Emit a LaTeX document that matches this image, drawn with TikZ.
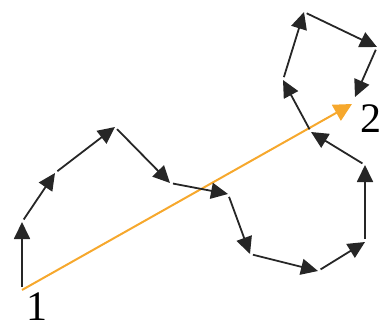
\documentclass[tikz,border=0pt]{standalone}
\usepackage{fontspec}
\setmainfont{Liberation Serif}
\usetikzlibrary{arrows.meta}
\definecolor{walkorange}{RGB}{246,168,45}
\tikzset{
  walkseg/.style={line width=1.8pt, black!85, shorten <=3pt,
    -{Triangle[length=17pt,width=16pt]}},
  netseg/.style={line width=2pt, walkorange,
    -{Triangle[length=18pt,width=18pt]}},
  ptlabel/.style={inner sep=0pt, font=\fontsize{42}{42}\selectfont}
}
\begin{document}
\begin{tikzpicture}[x=1pt,y=-1pt]
\useasboundingbox (0,0) rectangle (383,329);
% steps of the walk
\coordinate (p0) at (22,290);
\coordinate (p1) at (22,222);
\coordinate (p2) at (55,173);
\coordinate (p3) at (115,127);
\coordinate (p4) at (170,183);
\coordinate (p5) at (228,194);
\coordinate (p6) at (250,254);
\coordinate (p7) at (318,271);
\coordinate (p8) at (365,242);
\coordinate (p9) at (365,165);
\coordinate (p10) at (311,132);
\coordinate (p11) at (283,80);
\coordinate (p12) at (304,12);
\coordinate (p13) at (377,47);
\coordinate (p14) at (355,97);
\coordinate (end) at (352,104);
\draw[netseg] (p0) -- (end);
\foreach \a/\b in {p0/p1,p1/p2,p2/p3,p3/p4,p4/p5,p5/p6,p6/p7,p7/p8,
    p8/p9,p9/p10,p10/p11,p11/p12,p12/p13,p13/p14}{
    \draw[walkseg] (\a) -- (\b);
}
\node[ptlabel] (one) at (37,307) {1};
\node[ptlabel] (two) at (371,119) {2};
\end{tikzpicture}
\end{document}
